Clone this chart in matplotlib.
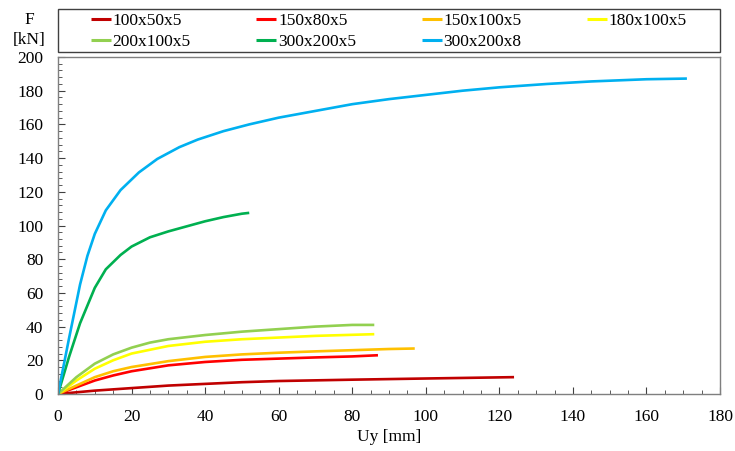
import matplotlib
matplotlib.use("Agg")
import matplotlib.pyplot as plt
from matplotlib.patches import Rectangle
from matplotlib.ticker import MultipleLocator

plt.rcParams['font.family'] = ['Liberation Serif', 'DejaVu Serif']

labels = ["100x50x5", "150x80x5", "150x100x5", "180x100x5", "200x100x5", "300x200x5", "300x200x8"]
colors = ["#C00000", "#FF0000", "#FFC000", "#FFFF00", "#92D050", "#00B050", "#00B0F0"]

x_100x50x5 = [0, 5, 10, 20, 30, 40, 50, 60, 80, 100, 124]
y_100x50x5 = [0, 1, 2, 3.5, 5, 6, 7, 7.7, 8.5, 9.2, 10]

x_150x80x5 = [0, 5, 10, 15, 20, 30, 40, 50, 60, 70, 80, 87]
y_150x80x5 = [0, 4, 8, 11, 13.5, 17, 19, 20.3, 21, 21.7, 22.3, 23]

x_150x100x5 = [0, 5, 10, 15, 20, 30, 40, 50, 60, 70, 80, 90, 97]
y_150x100x5 = [0, 5, 10, 13.5, 16, 19.5, 22, 23.5, 24.5, 25.3, 26, 26.7, 27]

x_180x100x5 = [0, 5, 10, 15, 20, 30, 40, 50, 60, 70, 86]
y_180x100x5 = [0, 8, 15, 20, 24, 28.5, 31, 32.5, 33.5, 34.5, 35.5]

x_200x100x5 = [0, 5, 10, 15, 20, 25, 30, 40, 50, 60, 70, 80, 86]
y_200x100x5 = [0, 10, 18, 23.5, 27.5, 30.5, 32.5, 35, 37, 38.5, 40, 41, 41]

x_300x200x5 = [0, 3, 6, 10, 13, 17, 20, 25, 30, 35, 40, 45, 50, 52]
y_300x200x5 = [0, 22, 42, 63, 74, 82.5, 87.5, 93, 96.5, 99.5, 102.5, 105, 107, 107.5]

x_300x200x8 = [0, 3, 6, 8, 10, 13, 17, 22, 27, 33, 38, 45, 52, 60, 70, 80, 90, 100, 110, 120, 133, 145, 160, 171]
y_300x200x8 = [0, 33, 65, 82, 95, 109, 121, 131.5, 139.5, 146.5, 151, 156, 160, 164, 168, 172, 175, 177.5, 180, 182, 184, 185.5, 186.8, 187.2]

series = [
    (x_100x50x5, y_100x50x5),
    (x_150x80x5, y_150x80x5),
    (x_150x100x5, y_150x100x5),
    (x_180x100x5, y_180x100x5),
    (x_200x100x5, y_200x100x5),
    (x_300x200x5, y_300x200x5),
    (x_300x200x8, y_300x200x8),
]

FS = 12.5

fig = plt.figure(figsize=(7.35, 4.51), dpi=100)
ax = fig.add_axes([58/735, 1-394/451, (720-58)/735, (394-57)/451])

handles = []
for (xs, ys), lab, c in zip(series, labels, colors):
    h, = ax.plot(xs, ys, color=c, lw=1.9, label=lab, solid_capstyle='butt')
    handles.append(h)

ax.set_xlim(0, 180)
ax.set_ylim(0, 200)
ax.xaxis.set_major_locator(MultipleLocator(20))
ax.xaxis.set_minor_locator(MultipleLocator(5))
ax.yaxis.set_major_locator(MultipleLocator(20))
ax.yaxis.set_minor_locator(MultipleLocator(4))
ax.tick_params(which='both', direction='in', top=False, right=False, labelsize=FS,
               color='#404040', labelcolor='black')
ax.tick_params(which='major', length=5)
ax.tick_params(which='minor', length=3)
ax.tick_params(axis='x', which='major', pad=11)
ax.tick_params(axis='y', which='major', pad=10.5)
for s in ax.spines.values():
    s.set_color('#7f7f7f')
    s.set_linewidth(1.0)

fig.text(389/735, 1-437/451, "Uy [mm]", ha='center', va='center', fontsize=FS)
fig.text(29/735, 1-20/451, "F", ha='center', va='center', fontsize=FS)
fig.text(29/735, 1-40/451, "[kN]", ha='center', va='center', fontsize=FS)

fig.patches.append(Rectangle((58/735, 1-52/451), 662/735, 43/451, transform=fig.transFigure,
                             fill=False, edgecolor='#404040', lw=1.0))

order = [0, 4, 1, 5, 2, 6, 3]
leg = fig.legend(handles=[handles[i] for i in order], labels=[labels[i] for i in order],
                 ncol=4, loc='upper left',
                 bbox_to_anchor=(91/735, 1-12.5/451), frameon=False, fontsize=FS,
                 handlelength=1.15, handletextpad=0.1, columnspacing=3.78,
                 labelspacing=0.3, borderaxespad=0, borderpad=0)
for line in leg.get_lines():
    line.set_linewidth(2.2)

fig.savefig("out.png", dpi=100)
